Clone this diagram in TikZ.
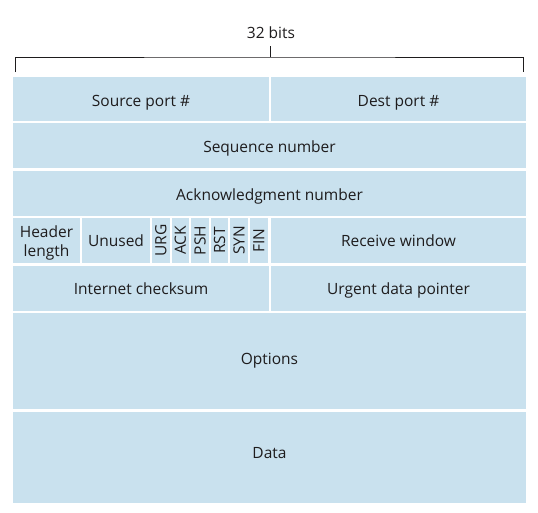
\documentclass[tikz,border=0pt]{standalone}
\usepackage{fontspec}
\setmainfont{Open Sans}
\definecolor{fieldblue}{RGB}{201,225,238}
\definecolor{inkgray}{RGB}{30,28,29}

\begin{document}
\begin{tikzpicture}[x=1pt, y=-1pt,
    field/.style={rectangle, fill=fieldblue, inner sep=0pt, text=inkgray, font=\fontsize{15.5}{19}\selectfont, align=center},
    flag/.style={field, minimum width=17.6pt, minimum height=45pt},
    bracket/.style={draw=inkgray, line width=1pt}]
    \useasboundingbox (0,0) rectangle (538,512);

    % 32 bits bracket
    \node[text=inkgray, font=\fontsize{15.5}{19}\selectfont] (bits) at (271,33) {32 bits};
    \coordinate (bl) at (15,72);
    \coordinate (br) at (523,72);
    \coordinate (bm) at (270,57);
    \coordinate (bt) at (270,46);
    \draw[bracket] (bl) |- (bm) -| (br);
    \draw[bracket] (bm) -- (bt);

    % Row 1
    \node[field, minimum width=256pt, minimum height=44pt] (src) at (141,99) {\raisebox{-4pt}[\height][\depth]{Source port \#}};
    \node[field, minimum width=255pt, minimum height=44pt] (dst) at (398.5,99) {\raisebox{-4pt}[\height][\depth]{Dest port \#}};

    % Rows 2 and 3
    \node[field, minimum width=513pt, minimum height=45pt] (seq) at (269.5,145.5) {\raisebox{-2.5pt}[\height][\depth]{Sequence number}};
    \node[field, minimum width=513pt, minimum height=45pt] (ack) at (269.5,193.5) {\raisebox{-2.5pt}[\height][\depth]{Acknowledgment number}};

    % Row 4
    \node[field, minimum width=67pt, minimum height=45pt] (hlen) at (46.5,240.5) {\raisebox{-2pt}[\height][\depth]{Header}\\\raisebox{-2pt}[\height][\depth]{length}};
    \node[field, minimum width=68pt, minimum height=45pt] (unused) at (116,240.5) {Unused};
    \foreach \f [count=\i from 0] in {URG,ACK,PSH,RST,SYN,FIN} {
        \node[flag] (\f) at ({160.8+19.6*\i},240.5) {\rotatebox{90}{\f}};
    }
    \node[field, minimum width=255pt, minimum height=45pt] (rwnd) at (398.5,240.5) {Receive window};

    % Row 5
    \node[field, minimum width=256pt, minimum height=45pt] (cksum) at (141,288.5) {Internet checksum};
    \node[field, minimum width=255pt, minimum height=45pt] (urgptr) at (398.5,288.5) {\raisebox{-1.5pt}[\height][\depth]{Urgent data pointer}};

    % Options and data
    \node[field, minimum width=513pt, minimum height=96pt] (opts) at (269.5,361) {Options};
    \node[field, minimum width=513pt, minimum height=91pt] (data) at (269.5,457.5) {\raisebox{4pt}[\height][\depth]{Data}};
\end{tikzpicture}
\end{document}
